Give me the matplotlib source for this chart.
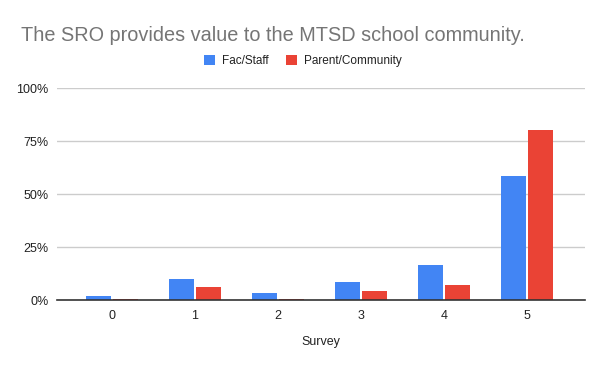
import matplotlib
matplotlib.use("Agg")
import matplotlib.pyplot as plt
import numpy as np

categories = ["0", "1", "2", "3", "4", "5"]
fac_staff = [0.020, 0.100, 0.034, 0.086, 0.168, 0.585]
parent_community = [0.006, 0.063, 0.006, 0.044, 0.071, 0.802]
yticks = [0, 0.25, 0.5, 0.75, 1.0]
ytick_labels = ["0%", "25%", "50%", "75%", "100%"]

plt.rcParams['font.family'] = ['Liberation Sans', 'DejaVu Sans']

fig = plt.figure(figsize=(6, 3.71), dpi=100)
ax = fig.add_axes([0.095, 0.1906, 0.88, 0.5714])

x = np.arange(len(categories))
w = 0.30
gap = 0.012
ax.bar(x - w/2 - gap, fac_staff, width=w, color="#4285F4", label="Fac/Staff", zorder=3)
ax.bar(x + w/2 + gap, parent_community, width=w, color="#EA4335", label="Parent/Community", zorder=3)

ax.set_xlim(-0.66, 5.70)
ax.set_ylim(0, 1.0)
ax.set_yticks(yticks)
ax.set_yticklabels(ytick_labels)
ax.set_xticks(x)
ax.set_xticklabels(categories)
ax.grid(axis="y", color="#cccccc", linewidth=1, zorder=0)
for s in ["top", "right", "left"]:
    ax.spines[s].set_visible(False)
ax.spines["bottom"].set_color("#333333")
ax.spines["bottom"].set_linewidth(1.2)
ax.spines["bottom"].set_zorder(4)
ax.tick_params(axis="both", length=0, labelsize=9, labelcolor="#222222")
ax.tick_params(axis="y", pad=6)
ax.tick_params(axis="x", pad=7)
ax.set_xlabel("Survey", fontsize=9, color="#222222", labelpad=10)

fig.text(0.035, 0.905, "The SRO provides value to the MTSD school community.",
         fontsize=14.3, color="#757575", va="center", ha="left")

leg = fig.legend(loc="center", bbox_to_anchor=(0.505, 0.835), ncol=2, frameon=False,
                 fontsize=8.5, handlelength=0.9, handleheight=0.9, handletextpad=0.6,
                 columnspacing=1.5)
for t in leg.get_texts():
    t.set_color("#222222")

fig.savefig("out.png", dpi=100)
